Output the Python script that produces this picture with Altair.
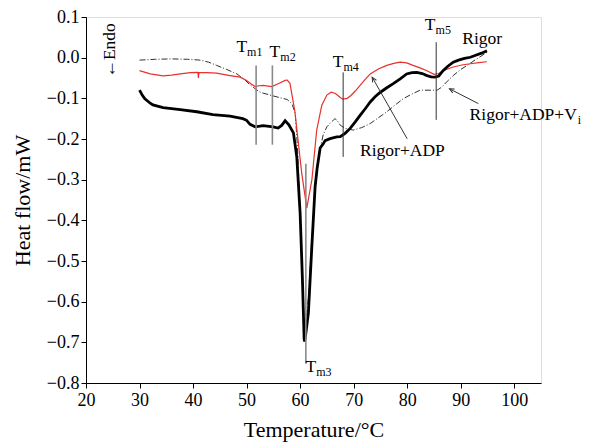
import altair as alt
import pandas as pd

# ---- data ----
rigor_T = [30.0, 30.5, 31.0, 32.0, 32.5, 34.4, 37.6, 40.7, 43.7, 46.9, 49.3, 50.0, 50.65, 51.6,
           53.1, 54.95, 55.9, 56.6, 57.2, 57.9, 58.75, 59.38, 60.0, 60.43, 60.75, 60.84, 61.1,
           61.55, 62.19, 62.8, 63.2, 63.74, 64.3, 64.67, 65.6, 66.86, 67.5, 68.4, 69.35, 70.3,
           71.2, 72.2, 73.1, 74.0, 75.0, 76.2, 77.4, 78.7, 79.9, 80.9, 81.8, 82.8, 83.7, 84.5,
           85.2, 85.9, 86.7, 87.6, 88.6, 89.6, 90.7, 91.8, 92.8, 93.9, 94.9]
rigor_v = [-0.080, -0.092, -0.101, -0.112, -0.116, -0.123, -0.128, -0.133, -0.140, -0.144, -0.150,
           -0.154, -0.164, -0.170, -0.167, -0.170, -0.173, -0.166, -0.155, -0.165, -0.185, -0.244,
           -0.382, -0.544, -0.691, -0.698, -0.675, -0.627, -0.464, -0.317, -0.270, -0.222, -0.212,
           -0.204, -0.199, -0.195, -0.194, -0.186, -0.174, -0.158, -0.142, -0.125, -0.109, -0.096,
           -0.085, -0.074, -0.064, -0.052, -0.040, -0.037, -0.036, -0.039, -0.044, -0.047, -0.048,
           -0.045, -0.032, -0.021, -0.011, -0.006, -0.002, 0.001, 0.006, 0.011, 0.017]

adp_T = [30.0, 32.0, 34.4, 36.0, 37.6, 39.5, 40.9, 41.0, 41.1, 42.5, 44.4, 46.9, 48.8, 50.0, 50.8,
         51.6, 52.4, 53.1, 54.7, 55.9, 57.2, 57.6, 58.1, 58.45, 59.0, 59.4, 60.3, 61.25, 62.2,
         63.1, 64.05, 65.0, 65.8, 66.6, 67.5, 68.0, 68.8, 69.5, 70.3, 71.2, 72.2, 73.1, 74.6,
         76.2, 77.5, 78.7, 79.9, 81.1, 82.4, 83.7, 85.0, 85.9, 86.9, 88.6, 90.2, 91.8, 93.4, 94.9]
adp_v = [-0.032, -0.040, -0.045, -0.043, -0.040, -0.037, -0.036, -0.050, -0.037, -0.037, -0.038,
         -0.044, -0.048, -0.056, -0.064, -0.071, -0.069, -0.068, -0.071, -0.064, -0.056, -0.055,
         -0.063, -0.089, -0.130, -0.178, -0.284, -0.370, -0.300, -0.178, -0.117, -0.092, -0.085,
         -0.088, -0.098, -0.102, -0.100, -0.093, -0.082, -0.068, -0.053, -0.040, -0.028, -0.019,
         -0.014, -0.011, -0.013, -0.019, -0.025, -0.032, -0.041, -0.039, -0.031, -0.023, -0.018,
         -0.015, -0.012, -0.010]

vi_T = [30.0, 33.0, 36.0, 39.0, 41.3, 42.9, 44.4, 46.3, 48.2, 49.7, 50.65, 52.5, 54.95, 57.6,
        58.5, 59.1, 59.5, 59.9, 60.3, 60.6, 60.85, 61.1, 61.6, 62.2, 62.8, 63.5, 64.3, 65.0,
        65.7, 66.5, 66.9, 67.5, 68.4, 69.9, 71.5, 73.1, 74.6, 76.2, 77.7, 79.25, 80.8, 82.4,
        84.9, 85.6, 86.5, 87.5, 88.6, 89.9, 91.2, 93.0, 94.9]
vi_v = [-0.006, -0.004, -0.003, -0.004, -0.006, -0.011, -0.019, -0.029, -0.040, -0.055, -0.067,
        -0.085, -0.094, -0.103, -0.114, -0.138, -0.220, -0.350, -0.500, -0.630, -0.685, -0.660,
        -0.580, -0.440, -0.330, -0.240, -0.190, -0.170, -0.160, -0.150, -0.154, -0.166, -0.174,
        -0.178, -0.172, -0.162, -0.148, -0.133, -0.117, -0.101, -0.090, -0.080, -0.080, -0.080,
        -0.072, -0.058, -0.044, -0.030, -0.019, -0.003, 0.013]

# melting temperature markers: T, top, bottom
tm_T = [51.78, 54.82, 61.07, 68.04, 85.42]
tm_top = [-0.019, -0.019, -0.261, -0.036, 0.038]
tm_bot = [-0.214, -0.214, -0.752, -0.244, -0.153]
tm_names = ["m1", "m2", "m3", "m4", "m5"]

# annotation labels
lab_text = ["Rigor", "Rigor+ADP", "Rigor+ADP+V"]
lab_T = [90.3, 71.2, 111.7]
lab_v = [0.033, -0.243, -0.153]

x_ticks = [20, 25, 30, 35, 40, 45, 50, 55, 60, 65, 70, 75, 80, 85, 90, 95, 100, 105]
y_ticks = [0.1, 0.05, 0.0, -0.05, -0.1, -0.15, -0.2, -0.25, -0.3, -0.35, -0.4, -0.45, -0.5,
           -0.55, -0.6, -0.65, -0.7, -0.75, -0.8]

FONT = "Liberation Serif"

df = pd.concat([
    pd.DataFrame({"T": rigor_T, "v": rigor_v, "s": "Rigor"}),
    pd.DataFrame({"T": adp_T, "v": adp_v, "s": "Rigor+ADP"}),
    pd.DataFrame({"T": vi_T, "v": vi_v, "s": "Rigor+ADP+Vi"}),
])

xs = alt.Scale(domain=[20, 105], nice=False, zero=False)
ys = alt.Scale(domain=[-0.8, 0.1], nice=False, zero=False)

x_axis = alt.Axis(values=x_ticks, labelExpr="datum.value % 10 == 0 ? datum.label : ''",
                  title="Temperature/°C", grid=False, labelFlush=False, tickSize=5,
                  labelPadding=3, titlePadding=10, domainColor="black", tickColor="black",
                  labelFontSize=18, titleFontSize=22, labelFont=FONT, titleFont=FONT,
                  titleFontWeight="normal", labelColor="black", titleColor="black")
y_axis = alt.Axis(values=y_ticks,
                  labelExpr="abs(round(datum.value*100)) % 10 == 0 ? format(datum.value, '.1f') : ''",
                  title="Heat flow/mW", grid=False, labelFlush=False, tickSize=5,
                  labelPadding=2, titlePadding=12, domainColor="black", tickColor="black",
                  labelFontSize=18, titleFontSize=22, labelFont=FONT, titleFont=FONT,
                  titleFontWeight="normal", labelColor="black", titleColor="black")

base = alt.Chart(df)
X = alt.X("T:Q", scale=xs, axis=x_axis)
Y = alt.Y("v:Q", scale=ys, axis=y_axis)

vi_line = base.transform_filter("datum.s == 'Rigor+ADP+Vi'").mark_line(
    color="#333333", strokeWidth=1, strokeDash=[6, 2, 1, 2]).encode(x=X, y=Y, order="T:Q")
adp_line = base.transform_filter("datum.s == 'Rigor+ADP'").mark_line(
    color="#e8302c", strokeWidth=1.2).encode(x=X, y=Y, order="T:Q")
rig_line = base.transform_filter("datum.s == 'Rigor'").mark_line(
    color="black", strokeWidth=2.8).encode(x=X, y=Y, order="T:Q")

tm_df = pd.DataFrame({"T": tm_T, "top": tm_top, "bot": tm_bot, "name": tm_names})
tm_gray = alt.Chart(tm_df.iloc[:3]).mark_rule(color="#8a8a8a", strokeWidth=1.6).encode(
    x=alt.X("T:Q", scale=xs), y=alt.Y("top:Q", scale=ys), y2="bot:Q")
tm_dark = alt.Chart(tm_df.iloc[3:]).mark_rule(color="#333333", strokeWidth=1).encode(
    x=alt.X("T:Q", scale=xs), y=alt.Y("top:Q", scale=ys), y2="bot:Q")

# T labels with subscripts: T right-edge at the anchor, subscript to its right
tT = [48.2 + 1.9, 54.4 + 1.9, 61.3 + 1.7, 66.2 + 1.9, 83.4 + 1.9]
tV = [0.013, 0.001, -0.774, -0.023, 0.069]
tl_df = pd.DataFrame({"T": tT, "v": tV, "sub": tm_names})
t_main = alt.Chart(tl_df).mark_text(font=FONT, fontSize=17.5, align="right",
                                    baseline="alphabetic", color="black").encode(
    x=alt.X("T:Q", scale=xs), y=alt.Y("v:Q", scale=ys), text=alt.value("T"))
t_sub = alt.Chart(tl_df).mark_text(font=FONT, fontSize=12, align="left",
                                   baseline="alphabetic", color="black", dx=0, dy=4).encode(
    x=alt.X("T:Q", scale=xs), y=alt.Y("v:Q", scale=ys), text="sub:N")

lab_df = pd.DataFrame({"T": lab_T, "v": lab_v, "t": lab_text})
labs = alt.Chart(lab_df.iloc[:2]).mark_text(font=FONT, fontSize=17.5, align="left",
                                            baseline="alphabetic", color="black").encode(
    x=alt.X("T:Q", scale=xs), y=alt.Y("v:Q", scale=ys), text="t:N")
lab_vi = alt.Chart(lab_df.iloc[2:]).mark_text(font=FONT, fontSize=17.5, align="right",
                                              baseline="alphabetic", color="black").encode(
    x=alt.X("T:Q", scale=xs), y=alt.Y("v:Q", scale=ys), text="t:N")
lab_vi_sub = alt.Chart(lab_df.iloc[2:]).mark_text(font=FONT, fontSize=12, align="left",
                                                  baseline="alphabetic", color="black",
                                                  dx=1, dy=4).encode(
    x=alt.X("T:Q", scale=xs), y=alt.Y("v:Q", scale=ys), text=alt.value("i"))

endo_df = pd.DataFrame({"T": [24.5], "v": [0.018], "t": ["←Endo"]})
endo = alt.Chart(endo_df).mark_text(font=FONT, fontSize=17.5, angle=270, align="center",
                                    baseline="middle", color="black").encode(
    x=alt.X("T:Q", scale=xs), y=alt.Y("v:Q", scale=ys), text="t:N")

# arrows: start (text side) -> tip (curve side)
arr_df = pd.DataFrame({"T": [80.0, 93.3], "v": [-0.1995, -0.113],
                       "T2": [73.46, 87.9], "v2": [-0.048, -0.0765]})
arr_lines = alt.Chart(arr_df).mark_rule(color="#333333", strokeWidth=1).encode(
    x=alt.X("T:Q", scale=xs), y=alt.Y("v:Q", scale=ys), x2="T2:Q", y2="v2:Q")
head_path = "M-0.45,1L0,0L0.45,1"
head1 = alt.Chart(arr_df.iloc[:1]).mark_point(shape=head_path, filled=False, color="#333333",
                                              strokeWidth=1, size=90, angle=330.6, opacity=1).encode(
    x=alt.X("T2:Q", scale=xs), y=alt.Y("v2:Q", scale=ys))
head2 = alt.Chart(arr_df.iloc[1:]).mark_point(shape=head_path, filled=False, color="#333333",
                                              strokeWidth=1, size=90, angle=297.4, opacity=1).encode(
    x=alt.X("T2:Q", scale=xs), y=alt.Y("v2:Q", scale=ys))

chart = alt.layer(
    vi_line, adp_line, rig_line, tm_gray, tm_dark, t_main, t_sub, labs, lab_vi, lab_vi_sub,
    endo, arr_lines, head1, head2
).properties(
    width=455, height=366,
    autosize=alt.AutoSizeParams(type="none"),
    padding={"left": 78, "top": 9, "right": 41, "bottom": 61},
).configure_view(stroke=None).configure(background="white")

chart.save("out.html", embed_options={"renderer": "svg", "actions": False})
